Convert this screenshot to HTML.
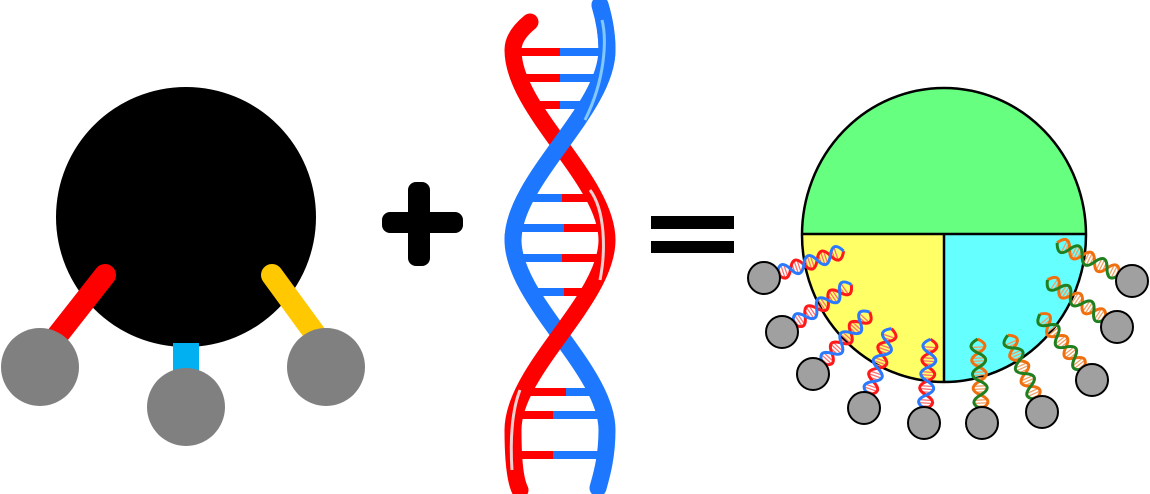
<!DOCTYPE html>
<html><head><meta charset="utf-8"><style>html,body{margin:0;padding:0;background:#fff}svg{display:block}</style></head>
<body>
<svg width="1150" height="494" viewBox="0 0 1150 494" xmlns="http://www.w3.org/2000/svg">
<defs>
<g id="dA">
<path d="M3,-5V5M6,-6V6M9,-5V5M17,-5V5M20,-6V6M23,-5V5M31,-5V5M34,-6V6M37,-5V5M45,-5V5M48,-6V6M51,-5V5M59,-5V5M62,-6V6M65,-5V5M73,-5V5M76,-6V6" stroke="#ff7070" stroke-width="1.3"/>
<path d="M0,0 Q7,-14 14,0 T28,0 T42,0 T56,0 T70,0 T84,0" fill="none" stroke="#ff1a1a" stroke-width="3"/>
<path d="M0,0 Q7,14 14,0 T28,0 T42,0 T56,0 T70,0 T84,0" fill="none" stroke="#2a7aff" stroke-width="3"/>
</g>
<g id="dB">
<path d="M3,-5V5M6,-6V6M9,-5V5M17,-5V5M20,-6V6M23,-5V5M31,-5V5M34,-6V6M37,-5V5M45,-5V5M48,-6V6M51,-5V5M59,-5V5M62,-6V6M65,-5V5M73,-5V5M76,-6V6" stroke="#f0a060" stroke-width="1.3"/>
<path d="M0,0 Q7,-14 14,0 T28,0 T42,0 T56,0 T70,0 T84,0" fill="none" stroke="#f07010" stroke-width="3"/>
<path d="M0,0 Q7,14 14,0 T28,0 T42,0 T56,0 T70,0 T84,0" fill="none" stroke="#208020" stroke-width="3"/>
</g>
</defs>

<!-- left molecule -->
<circle cx="186" cy="217" r="130" fill="#000"/>
<line x1="105" y1="275" x2="50" y2="345" stroke="#ff0000" stroke-width="22" stroke-linecap="round"/>
<line x1="272" y1="275" x2="318" y2="338" stroke="#ffc800" stroke-width="22" stroke-linecap="round"/>
<rect x="173" y="343" width="26" height="35" fill="#00b0f0"/>
<circle cx="40" cy="367" r="39" fill="#808080"/>
<circle cx="186" cy="407" r="39" fill="#808080"/>
<circle cx="326" cy="367" r="39" fill="#808080"/>

<!-- plus -->
<rect x="382" y="212" width="81" height="21" rx="8" fill="#000"/>
<rect x="408" y="182" width="22" height="84" rx="8" fill="#000"/>
<!-- equals -->
<rect x="651" y="216" width="83" height="13" fill="#000"/>
<rect x="651" y="241" width="83" height="12" fill="#000"/>

<!-- big DNA rungs -->
<g stroke-width="8">
<line x1="514" y1="52" x2="560" y2="52" stroke="#ff0000"/><line x1="560" y1="52" x2="606" y2="52" stroke="#1e78ff"/>
<line x1="518" y1="78" x2="560" y2="78" stroke="#ff0000"/><line x1="560" y1="78" x2="602" y2="78" stroke="#1e78ff"/>
<line x1="531" y1="105" x2="560" y2="105" stroke="#ff0000"/><line x1="560" y1="105" x2="589" y2="105" stroke="#1e78ff"/>
<line x1="524" y1="198" x2="562" y2="198" stroke="#1e78ff"/><line x1="562" y1="198" x2="596" y2="198" stroke="#ff0000"/>
<line x1="514" y1="228" x2="564" y2="228" stroke="#1e78ff"/><line x1="564" y1="228" x2="606" y2="228" stroke="#ff0000"/>
<line x1="515" y1="258" x2="562" y2="258" stroke="#1e78ff"/><line x1="562" y1="258" x2="605" y2="258" stroke="#ff0000"/>
<line x1="529" y1="292" x2="564" y2="292" stroke="#1e78ff"/><line x1="564" y1="292" x2="591" y2="292" stroke="#ff0000"/>
<line x1="521" y1="392" x2="566" y2="392" stroke="#ff0000"/><line x1="566" y1="392" x2="599" y2="392" stroke="#1e78ff"/>
<line x1="514" y1="415" x2="553" y2="415" stroke="#ff0000"/><line x1="553" y1="415" x2="606" y2="415" stroke="#1e78ff"/>
<line x1="517" y1="455" x2="553" y2="455" stroke="#ff0000"/><line x1="553" y1="455" x2="603" y2="455" stroke="#1e78ff"/>
</g>
<!-- strands -->
<path d="M600,5 C606,25 607,40 607,50 C607,110 513,180 513,240 C513,300 607,370 607,430 C607,460 600,480 598,488" fill="none" stroke="#1e78ff" stroke-width="17" stroke-linecap="round"/>
<path d="M530,22 C514,35 513,45 513,50 C513,110 607,180 607,240 C607,300 513,370 513,430 C513,460 515,480 520,490" fill="none" stroke="#ff0000" stroke-width="17" stroke-linecap="round"/>
<path d="M600,5 C606,25 607,40 607,50 C607,110 513,180 513,240" fill="none" stroke="#1e78ff" stroke-width="17" stroke-linecap="round"/>
<path d="M602,20 C607,40 605,80 585,120" fill="none" stroke="#80c8ff" stroke-width="3"/>
<path d="M590,190 C605,210 606,250 600,280" fill="none" stroke="#f0d0d0" stroke-width="3"/>
<path d="M520,390 C512,410 510,440 512,470" fill="none" stroke="#f0d0d0" stroke-width="3"/>

<!-- right sphere -->
<path d="M802,234 A142,146 0 0 1 1086,234 Z" fill="#66ff80"/>
<path d="M802,234 A142,148 0 0 0 944,382 L944,234 Z" fill="#ffff66"/>
<path d="M944,234 L944,382 A142,148 0 0 0 1086,234 Z" fill="#66ffff"/>
<ellipse cx="944" cy="235" rx="142" ry="147" fill="none" stroke="#000" stroke-width="2.5"/>
<line x1="802" y1="234" x2="1086" y2="234" stroke="#000" stroke-width="2.5"/>
<line x1="944" y1="234" x2="944" y2="382" stroke="#000" stroke-width="2.5"/>

<!-- mini DNA -->
<use href="#dA" transform="translate(764,278) rotate(-18.7)"/>
<use href="#dA" transform="translate(782,332) rotate(-34.5)"/>
<use href="#dA" transform="translate(813,374) rotate(-47.6)"/>
<use href="#dA" transform="translate(864,408) rotate(-70.9)"/>
<use href="#dA" transform="translate(924,423) rotate(-85.6)"/>
<use href="#dB" transform="translate(982,423) rotate(-93)"/>
<use href="#dB" transform="translate(1042,412) rotate(-114)"/>
<use href="#dB" transform="translate(1092,380) rotate(-128.4)"/>
<use href="#dB" transform="translate(1117,327) rotate(-145.9)"/>
<use href="#dB" transform="translate(1132,281) rotate(-153)"/>

<g fill="#a0a0a0" stroke="#000" stroke-width="2">
<circle cx="764" cy="278" r="16"/>
<circle cx="782" cy="332" r="16"/>
<circle cx="813" cy="374" r="16"/>
<circle cx="864" cy="408" r="16"/>
<circle cx="924" cy="423" r="16"/>
<circle cx="982" cy="423" r="16"/>
<circle cx="1042" cy="412" r="16"/>
<circle cx="1092" cy="380" r="16"/>
<circle cx="1117" cy="327" r="16"/>
<circle cx="1132" cy="281" r="16"/>
</g>
</svg>
</body></html>
